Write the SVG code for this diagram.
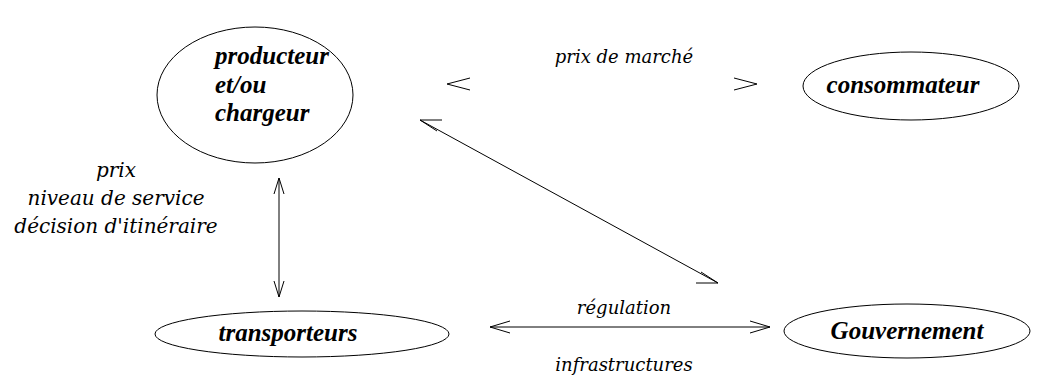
<svg xmlns="http://www.w3.org/2000/svg" width="1041" height="378" viewBox="0 0 1041 378">
<style>
.node ellipse{fill:none;stroke:#000;stroke-width:1}
.nt{font-family:"Liberation Serif",serif;font-style:italic;font-weight:bold;font-size:25px;fill:#000}
.lbl{font-family:"DejaVu Serif","Liberation Serif",serif;font-style:italic;font-size:18px;fill:#000}
.lbl2{font-size:20px}
.edge{fill:none;stroke:#000;stroke-width:1}
</style>
<rect width="1041" height="378" fill="#fff"/>
<g id="producteur" class="node">
<ellipse cx="255" cy="95" rx="98" ry="68"/>
<text class="nt" x="215" y="64">producteur</text>
<text class="nt" x="215" y="93">et/ou</text>
<text class="nt" x="215" y="121">chargeur</text>
</g>
<g id="consommateur" class="node">
<ellipse cx="911" cy="86" rx="108" ry="34"/>
<text class="nt" x="903" y="93" text-anchor="middle">consommateur</text>
</g>
<g id="transporteurs" class="node">
<ellipse cx="302" cy="334" rx="147" ry="23"/>
<text class="nt" x="288" y="341" text-anchor="middle">transporteurs</text>
</g>
<g id="gouvernement" class="node">
<ellipse cx="907" cy="331" rx="123" ry="27"/>
<text class="nt" x="907" y="339" text-anchor="middle">Gouvernement</text>
</g>
<g id="connectors">
<path class="edge" d="M470 78 L447 84 L470 90"/>
<path class="edge" d="M734 78 L757 84 L734 90"/>
<line class="edge" x1="279" y1="178" x2="279" y2="297"/>
<path class="edge" d="M274 194 L279 178 L284 194"/>
<path class="edge" d="M274 281 L279 297 L284 281"/>
<line class="edge" x1="420" y1="120" x2="718" y2="283"/>
<path class="edge" d="M442 120 L420 120 L437 131"/>
<path class="edge" d="M696 283 L718 283 L701 272"/>
<line class="edge" x1="490" y1="327" x2="770" y2="327"/>
<path class="edge" d="M510 321 L490 327 L510 333"/>
<path class="edge" d="M750 321 L770 327 L750 333"/>
</g>
<g id="labels">
<text class="lbl" x="624" y="63" text-anchor="middle">prix de marché</text>
<text class="lbl lbl2" x="116" y="177" text-anchor="middle">prix</text>
<text class="lbl lbl2" x="116" y="205" text-anchor="middle">niveau de service</text>
<text class="lbl lbl2" x="116" y="233" text-anchor="middle">décision d'itinéraire</text>
<text class="lbl" x="624" y="314" text-anchor="middle">régulation</text>
<text class="lbl" x="624" y="371" text-anchor="middle">infrastructures</text>
</g>
</svg>
